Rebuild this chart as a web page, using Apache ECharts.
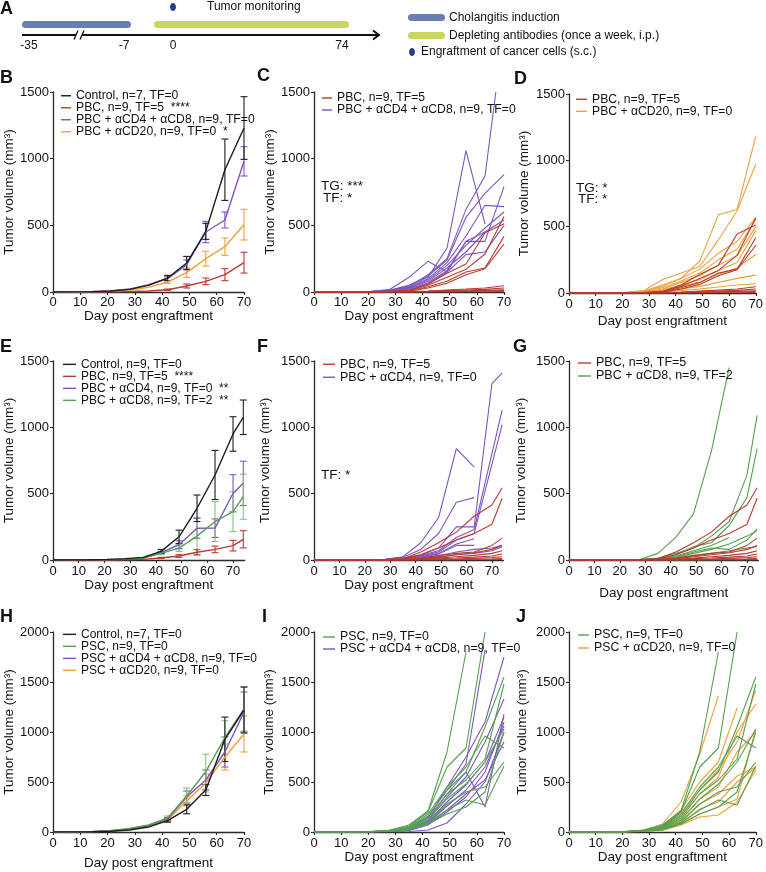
<!DOCTYPE html>
<html><head><meta charset="utf-8">
<script src="https://cdn.jsdelivr.net/npm/echarts@6/dist/echarts.min.js"></script>
<style>html,body{margin:0;padding:0;background:#fff}#c{width:766px;height:872px}</style>
</head><body><div id="c"></div><script>
const FONT = "'Liberation Sans', Arial, Helvetica, sans-serif";
// ---- time points ----
const daysB = [0,7,14,21,28,35,42,49,56,63,70];
const daysC = [0,7,14,21,28,35,42,49,56,63,67,70];
const daysE = [0,7,14,21,28,35,42,49,56,63,70,74];
const xTicks = [0,10,20,30,40,50,60,70];

// ---- B: group means and errors ----
const bControl = [0,1,3,8,20,50,105,217,455,917,1230];
const bControlErr = [0,0,0,0,0,0,20,50,60,230,235];
const bPBC = [0,0,1,2,4,8,17,45,80,130,220];
const bPBCErr = [0,0,0,0,0,0,5,15,25,45,78];
const bCD4CD8 = [0,1,3,8,22,55,100,205,450,540,980];
const bCD4CD8Err = [0,0,0,0,0,0,15,35,80,60,110];
const bCD20 = [0,0,2,5,15,35,75,145,250,340,505];
const bCD20Err = [0,0,0,0,0,0,10,35,55,65,115];

// ---- PBC individual mice (C, D) ----
const pbcMice = [
 [0,0,0,1,3,12,60,140,210,445,512],
 [0,0,0,1,3,10,50,110,170,285,567],
 [0,0,0,1,2,8,40,80,150,180,417],
 [0,0,0,1,2,6,30,65,130,175,360],
 [0,0,0,0,1,3,8,15,22,30,47],
 [0,0,0,0,1,2,5,10,15,20,30],
 [0,0,0,0,0,1,3,6,9,12,17],
 [0,0,0,0,0,1,2,3,5,7,10],
 [0,0,0,0,0,0,1,1,2,2,3]
];
// PBC + aCD4 + aCD8 (C), days = daysC
const cd48Mice = [
 [0,0,1,3,12,45,110,330,1060,510,null,null],
 [0,0,1,3,12,40,130,250,620,870,1500,null],
 [0,0,1,3,14,50,120,240,560,740,null,880],
 [0,0,1,4,20,110,230,150,380,380,null,790],
 [0,0,1,3,10,35,100,220,420,650,null,640],
 [0,0,1,2,8,30,90,200,350,480,null,600],
 [0,0,1,2,8,28,80,180,300,450,null,540],
 [0,0,1,2,6,22,70,160,380,450,null,null],
 [0,0,1,2,5,18,60,150,280,300,null,500]
];
// PBC + aCD20 (D)
const cd20Mice = [
 [0,0,1,4,15,60,110,240,590,630,1180],
 [0,0,1,4,18,100,150,200,400,620,970],
 [0,0,1,3,12,50,110,180,300,390,570],
 [0,0,1,3,10,40,90,150,250,330,555],
 [0,0,1,2,8,30,80,130,210,280,500],
 [0,0,1,2,7,25,60,100,170,230,470],
 [0,0,1,2,6,20,50,80,140,190,290],
 [0,0,0,1,4,12,30,50,80,110,135],
 [0,0,0,1,3,8,20,30,45,60,70]
];

// ---- E: group means and errors (daysE) ----
const eControl = [0,1,2,5,10,20,65,175,390,641,950,1076];
const eControlErr = [0,0,0,0,0,0,15,50,100,185,130,130];
const ePBC = [0,0,0,1,2,5,15,30,58,80,108,156];
const ePBCErr = [0,0,0,0,0,0,5,10,20,25,40,65];
const eCD4 = [0,0,1,2,5,15,55,115,239,240,503,578];
const eCD4Err = [0,0,0,0,0,0,10,30,75,70,140,167];
const eCD8 = [0,0,1,2,5,12,50,90,180,290,364,477];
const eCD8Err = [0,0,0,0,0,0,10,25,140,150,150,170];

// PBC individual mice (F, G), days = daysE
const pbcMiceE = [
 [0,0,0,1,3,10,60,130,210,330,415,545],
 [0,0,0,1,2,8,40,90,150,200,270,465],
 [0,0,0,0,1,4,15,35,50,60,110,165],
 [0,0,0,0,1,3,10,25,40,55,80,110],
 [0,0,0,0,1,2,6,15,25,35,50,70],
 [0,0,0,0,0,1,4,10,15,22,30,45],
 [0,0,0,0,0,1,2,5,8,12,18,25],
 [0,0,0,0,0,0,1,2,4,6,8,10],
 [0,0,0,0,0,0,0,1,1,2,3,5]
];
// PBC + aCD4 (F)
const cd4Mice = [
 [0,0,1,2,6,25,130,320,840,700,null,null],
 [0,0,1,2,5,20,80,200,435,470,null,null],
 [0,0,0,1,4,15,40,90,250,250,1330,1410],
 [0,0,0,1,3,12,35,70,170,230,null,1130],
 [0,0,0,1,3,10,30,60,150,200,null,1020],
 [0,0,0,1,2,8,25,50,120,160,null,null],
 [0,0,0,1,2,6,20,45,110,110,null,null],
 [0,0,0,0,1,4,15,30,60,80,90,110],
 [0,0,0,0,1,3,10,20,40,50,70,100]
];
// PBC + aCD8 (G)
const cd8Mice = [
 [0,0,0,1,5,50,170,350,820,1450,null,null],
 [0,0,0,1,3,15,50,90,180,290,640,1090],
 [0,0,0,1,3,12,40,100,130,260,470,840],
 [0,0,0,1,2,10,30,70,110,170,null,null],
 [0,0,0,1,2,8,25,60,90,80,150,235],
 [0,0,0,0,2,6,20,50,80,120,180,220],
 [0,0,0,0,1,4,12,30,50,70,90,100],
 [0,0,0,0,0,1,2,3,3,4,5,6],
 [0,0,0,0,0,0,1,1,2,2,2,3]
];

// ---- H: group means and errors (daysB) ----
const hControl = [0,1,3,8,20,50,113,227,420,927,1220];
const hControlErr = [0,0,0,0,0,0,15,45,55,222,230];
const hPSC = [0,1,4,12,35,70,140,360,603,943,1230];
const hPSCErr = [0,0,0,0,0,0,20,80,175,170,220];
const hCD4CD8 = [0,1,4,10,30,65,130,350,520,800,1200];
const hCD4CD8Err = [0,0,0,0,0,0,15,60,100,150,200];
const hCD20 = [0,1,4,10,28,60,120,310,490,750,980];
const hCD20Err = [0,0,0,0,0,0,15,50,90,130,180];

// PSC individual mice (I, J)
const pscMice = [
 [0,0,1,5,20,70,210,800,1800,null,null],
 [0,0,1,4,18,60,200,650,840,2000,null],
 [0,0,1,4,15,50,180,450,650,960,840],
 [0,0,1,3,12,45,160,420,600,1050,1550],
 [0,0,1,3,10,40,140,380,520,730,1480],
 [0,0,1,3,10,35,120,330,480,700,1030],
 [0,0,1,2,8,30,100,280,400,450,700],
 [0,0,1,2,7,25,90,220,320,270,660],
 [0,0,1,2,6,20,80,180,250,400,1000]
];
// PSC + aCD4 + aCD8 (I)
const pscCD48Mice = [
 [0,0,1,3,10,40,150,420,680,1820,null],
 [0,0,1,3,10,35,140,450,750,1100,1750],
 [0,0,1,3,10,30,120,380,600,250,1180],
 [0,0,1,2,8,30,110,350,550,900,1330],
 [0,0,1,2,8,25,100,300,470,700,1150],
 [0,0,1,2,6,20,90,260,420,650,1060],
 [0,0,1,2,5,18,80,220,380,520,900],
 [0,0,1,2,5,15,70,200,350,600,1100],
 [0,0,0,1,2,5,20,90,280,500,1000]
];
// PSC + aCD20 (J)
const pscCD20Mice = [
 [0,0,1,5,20,80,300,780,1360,null,null],
 [0,0,1,4,15,60,220,500,700,1240,null],
 [0,0,1,3,12,50,200,420,620,900,1420],
 [0,0,1,3,10,40,160,380,550,1000,1280],
 [0,0,1,3,10,35,130,330,450,800,1000],
 [0,0,1,2,8,30,110,280,380,560,650],
 [0,0,1,2,7,25,90,230,300,500,640],
 [0,0,1,2,6,20,80,180,250,330,1030],
 [0,0,1,2,5,15,70,150,170,300,620]
];

// ---- names ----
const N = {
 ctl7:'Control, n=7, TF=0', ctl9:'Control, n=9, TF=0',
 pbcB:'PBC, n=9, TF=5  ****', pbc:'PBC, n=9, TF=5',
 pbc48:'PBC + αCD4 + αCD8, n=9, TF=0', pbc20B:'PBC + αCD20, n=9, TF=0  *', pbc20:'PBC + αCD20, n=9, TF=0',
 pbc4E:'PBC + αCD4, n=9, TF=0  **', pbc8E:'PBC + αCD8, n=9, TF=2  **',
 pbc4:'PBC + αCD4, n=9, TF=0', pbc8:'PBC + αCD8, n=9, TF=2',
 psc:'PSC, n=9, TF=0', psc48:'PSC + αCD4 + αCD8, n=9, TF=0', psc20:'PSC + αCD20, n=9, TF=0'
};

const K='#1d1d1d', R='#b83b2f', PU='#7d55c2', O='#eea13a', G='#55a052', GL='#86bf83';

// ---- layout ----
const P = [
 {l:53,t:92,w:191,h:200,xmax:70,ymax:1500,xg:17,yg:36,lm:3.5},
 {l:314,t:92,w:190,h:200,xmax:70,ymax:1500,xg:17,yg:37,lm:3.5},
 {l:569,t:94,w:189,h:199,xmax:70,ymax:1500,xg:21,yg:38,lm:5},
 {l:53,t:361,w:191.6,h:199,xmax:74.5,ymax:1500,xg:16,yg:37,lm:4.5},
 {l:314,t:361,w:189.4,h:199,xmax:74.5,ymax:1500,xg:15,yg:42,lm:4.5},
 {l:569,t:361,w:189.4,h:199,xmax:74.5,ymax:1500,xg:26,yg:41,lm:4.5},
 {l:53,t:632,w:191,h:200,xmax:70,ymax:2000,xg:24,yg:37,lm:4.5},
 {l:314,t:632,w:190,h:200,xmax:70,ymax:2000,xg:16,yg:38,lm:4.5},
 {l:569,t:632,w:189,h:200,xmax:70,ymax:2000,xg:16,yg:40,lm:4.5}
];
const AX = '#2a2a2a';
const grid = P.map(p=>({left:p.l, top:p.t, width:p.w, height:p.h, containLabel:false}));
const xAxis = P.map((p,i)=>({
 gridIndex:i, type:'value', min:0, max:p.xmax, interval:10,
 axisLine:{show:true,onZero:false,lineStyle:{color:AX,width:1.3}},
 axisTick:{show:true,length:3,lineStyle:{color:AX,width:1.1},customValues:xTicks},
 axisLabel:{fontSize:13,color:'#111',fontFamily:FONT,margin:p.lm,customValues:xTicks,
   formatter:v=>(v%10===0?String(v):'')},
 splitLine:{show:false},
 name:'Day post engraftment', nameLocation:'middle', nameGap:p.xg,
 nameTextStyle:{fontSize:13.5,color:'#111',fontFamily:FONT}
}));
const yAxis = P.map((p,i)=>({
 gridIndex:i, type:'value', min:0, max:p.ymax, interval:500,
 axisLine:{show:true,onZero:false,lineStyle:{color:AX,width:1.3}},
 axisTick:{show:true,length:3,lineStyle:{color:AX,width:1.1}},
 axisLabel:{fontSize:13,color:'#111',fontFamily:FONT,margin:4,formatter:v=>String(v)},
 splitLine:{show:false},
 name:'Tumor volume (mm³)', nameLocation:'middle', nameGap:p.yg, nameRotate:90,
 nameTextStyle:{fontSize:13.5,color:'#111',fontFamily:FONT}
}));

const series = [];
function line(name, days, vals, gi, color, width){
 series.push({type:'line', name, xAxisIndex:gi, yAxisIndex:gi, symbol:'none', silent:true,
  connectNulls:true, animation:false, clip:true,
  lineStyle:{color, width}, itemStyle:{color},
  data: days.map((d,k)=>[d, vals[k]==null?null:vals[k]])});
}
function errs(name, days, mean, err, gi, color){
 const data = days.map((d,k)=>[d, mean[k], err[k]]).filter(r=>r[2]>0);
 series.push({type:'custom', name, xAxisIndex:gi, yAxisIndex:gi, silent:true, animation:false,
  itemStyle:{color}, data,
  renderItem:(params, api)=>{
   const x=api.value(0), m=api.value(1), e=api.value(2);
   const top=api.coord([x, m+e]), bot=api.coord([x, Math.max(0,m-e)]);
   const w=3.5, st={stroke:color, lineWidth:1.1};
   return {type:'group', children:[
    {type:'line', shape:{x1:top[0],y1:top[1],x2:bot[0],y2:bot[1]}, style:st},
    {type:'line', shape:{x1:top[0]-w,y1:top[1],x2:top[0]+w,y2:top[1]}, style:st},
    {type:'line', shape:{x1:bot[0]-w,y1:bot[1],x2:bot[0]+w,y2:bot[1]}, style:st}
   ]};
  }});
}
function mean(name, days, m, e, gi, color, ecolor){ line(name, days, m, gi, color, 1.4); errs(name, days, m, e, gi, ecolor||color); }

// B
mean(N.pbcB, daysB, bPBC, bPBCErr, 0, R);
mean(N.pbc20B, daysB, bCD20, bCD20Err, 0, O);
mean(N.pbc48, daysB, bCD4CD8, bCD4CD8Err, 0, PU);
mean(N.ctl7, daysB, bControl, bControlErr, 0, K);
// C
cd48Mice.forEach(v=>line(N.pbc48, daysC, v, 1, PU, 1.1));
pbcMice.forEach(v=>line(N.pbc, daysB, v, 1, R, 1.1));
// D
cd20Mice.forEach(v=>line(N.pbc20, daysB, v, 2, O, 1.1));
pbcMice.forEach(v=>line(N.pbc, daysB, v, 2, R, 1.1));
// E
mean(N.pbc4E, daysE, eCD4, eCD4Err, 3, PU);
mean(N.pbc8E, daysE, eCD8, eCD8Err, 3, G, GL);
mean(N.pbcB, daysE, ePBC, ePBCErr, 3, R);
mean(N.ctl9, daysE, eControl, eControlErr, 3, K);
// F
cd4Mice.forEach(v=>line(N.pbc4, daysE, v, 4, PU, 1.1));
pbcMiceE.forEach(v=>line(N.pbc, daysE, v, 4, R, 1.1));
// G
cd8Mice.forEach(v=>line(N.pbc8, daysE, v, 5, G, 1.1));
pbcMiceE.forEach(v=>line(N.pbc, daysE, v, 5, R, 1.1));
// H
mean(N.psc20, daysB, hCD20, hCD20Err, 6, O);
mean(N.psc48, daysB, hCD4CD8, hCD4CD8Err, 6, PU);
mean(N.psc, daysB, hPSC, hPSCErr, 6, G, GL);
mean(N.ctl7, daysB, hControl, hControlErr, 6, K);
// I
pscCD48Mice.forEach(v=>line(N.psc48, daysB, v, 7, PU, 1.1));
pscMice.forEach(v=>line(N.psc, daysB, v, 7, G, 1.1));
// J
pscCD20Mice.forEach(v=>line(N.psc20, daysB, v, 8, O, 1.1));
pscMice.forEach(v=>line(N.psc, daysB, v, 8, G, 1.1));

function leg(left, firstCenter, pitch, fs, iw, names){
 return {orient:'vertical', left, top:firstCenter-pitch/2, itemGap:0, itemWidth:iw, itemHeight:1.4,
  icon:'rect', padding:0, selectedMode:false, data:names,
  textStyle:{fontSize:fs, lineHeight:pitch, fontFamily:FONT, color:'#111'}};
}
const legend = [
 leg(61, 94, 8.5, 12.2, 10, [N.ctl7, N.pbcB, N.pbc48, N.pbc20B]),
 leg(322, 96, 8, 12.2, 10, [N.pbc, N.pbc48]),
 leg(576, 99, 11.5, 12.2, 11, [N.pbc, N.pbc20]),
 leg(63, 363.5, 10.3, 12, 13, [N.ctl9, N.pbcB, N.pbc4E, N.pbc8E]),
 leg(323, 364, 12.5, 12.5, 12, [N.pbc, N.pbc4]),
 leg(578, 363, 13, 12.5, 13, [N.pbc, N.pbc8]),
 leg(63, 634, 11.3, 12, 13, [N.ctl7, N.psc, N.psc48, N.psc20]),
 leg(323, 637, 12, 12.3, 12, [N.psc, N.psc48]),
 leg(578, 635, 13, 12.3, 11, [N.psc, N.psc20])
];

// ---- graphics: panel letters, annotations, panel A schematic ----
function txt(text, x, y, size, bold, align){
 return {type:'text', x, y, silent:true, style:{text, fill:'#111', font:(bold?'bold ':'')+size+'px '+FONT,
  textAlign:align||'left', textVerticalAlign:'middle'}};
}
const BLUE='#6c7cb4', YG='#c9d75a', DOT='#2b3a8f';
const graphic = [
 txt('A',0,9,18,true), txt('B',0,78.5,18,true), txt('C',257,76.5,18,true), txt('D',514,79,18,true),
 txt('E',0,347.5,18,true), txt('F',257,347,18,true), txt('G',513,347,18,true),
 txt('H',0,617,18,true), txt('I',262,617,18,true), txt('J',516,617,18,true),
 txt('TG: ***',321,186,13.5), txt('TF: *',323,198,13.5),
 txt('TG: *',576,188,13.5), txt('TF: *',578,199,13.5),
 txt('TF: *',321,475,13.5),
 // panel A
 {type:'rect', silent:true, shape:{x:22,y:21,width:109,height:7,r:3.5}, style:{fill:BLUE}},
 {type:'rect', silent:true, shape:{x:154,y:21,width:195,height:7,r:3.5}, style:{fill:YG}},
 {type:'line', silent:true, shape:{x1:22,y1:35,x2:76,y2:35}, style:{stroke:'#111',lineWidth:2}},
 {type:'line', silent:true, shape:{x1:82,y1:35,x2:378,y2:35}, style:{stroke:'#111',lineWidth:2}},
 {type:'line', silent:true, shape:{x1:74,y1:39.5,x2:78,y2:30.5}, style:{stroke:'#111',lineWidth:1.3}},
 {type:'line', silent:true, shape:{x1:80,y1:39.5,x2:84,y2:30.5}, style:{stroke:'#111',lineWidth:1.3}},
 {type:'polyline', silent:true, shape:{points:[[373,30.5],[379,35],[373,39.5]]}, style:{stroke:'#111',lineWidth:2,fill:null}},
 txt('-35',29,46,12,false,'center'), txt('-7',124,46,12,false,'center'),
 txt('0',173,46,12,false,'center'), txt('74',342,46,12,false,'center'),
 {type:'ellipse', silent:true, shape:{cx:173,cy:7,rx:3,ry:4}, style:{fill:DOT}},
 txt('Tumor monitoring',207,7,12),
 {type:'rect', silent:true, shape:{x:408,y:14,width:37,height:7,r:3.5}, style:{fill:BLUE}},
 txt('Cholangitis induction',449,17.5,12),
 {type:'rect', silent:true, shape:{x:408,y:32,width:37,height:7,r:3.5}, style:{fill:YG}},
 txt('Depleting antibodies (once a week, i.p.)',449,35.5,12),
 {type:'ellipse', silent:true, shape:{cx:412,cy:52,rx:3,ry:4}, style:{fill:DOT}},
 txt('Engraftment of cancer cells (s.c.)',421,52,12)
];

const chart = echarts.init(document.getElementById('c'), null, {renderer:'canvas'});
chart.setOption({animation:false, backgroundColor:'#fff', textStyle:{fontFamily:FONT},
 grid, xAxis, yAxis, series, legend, graphic});
</script></body></html>
